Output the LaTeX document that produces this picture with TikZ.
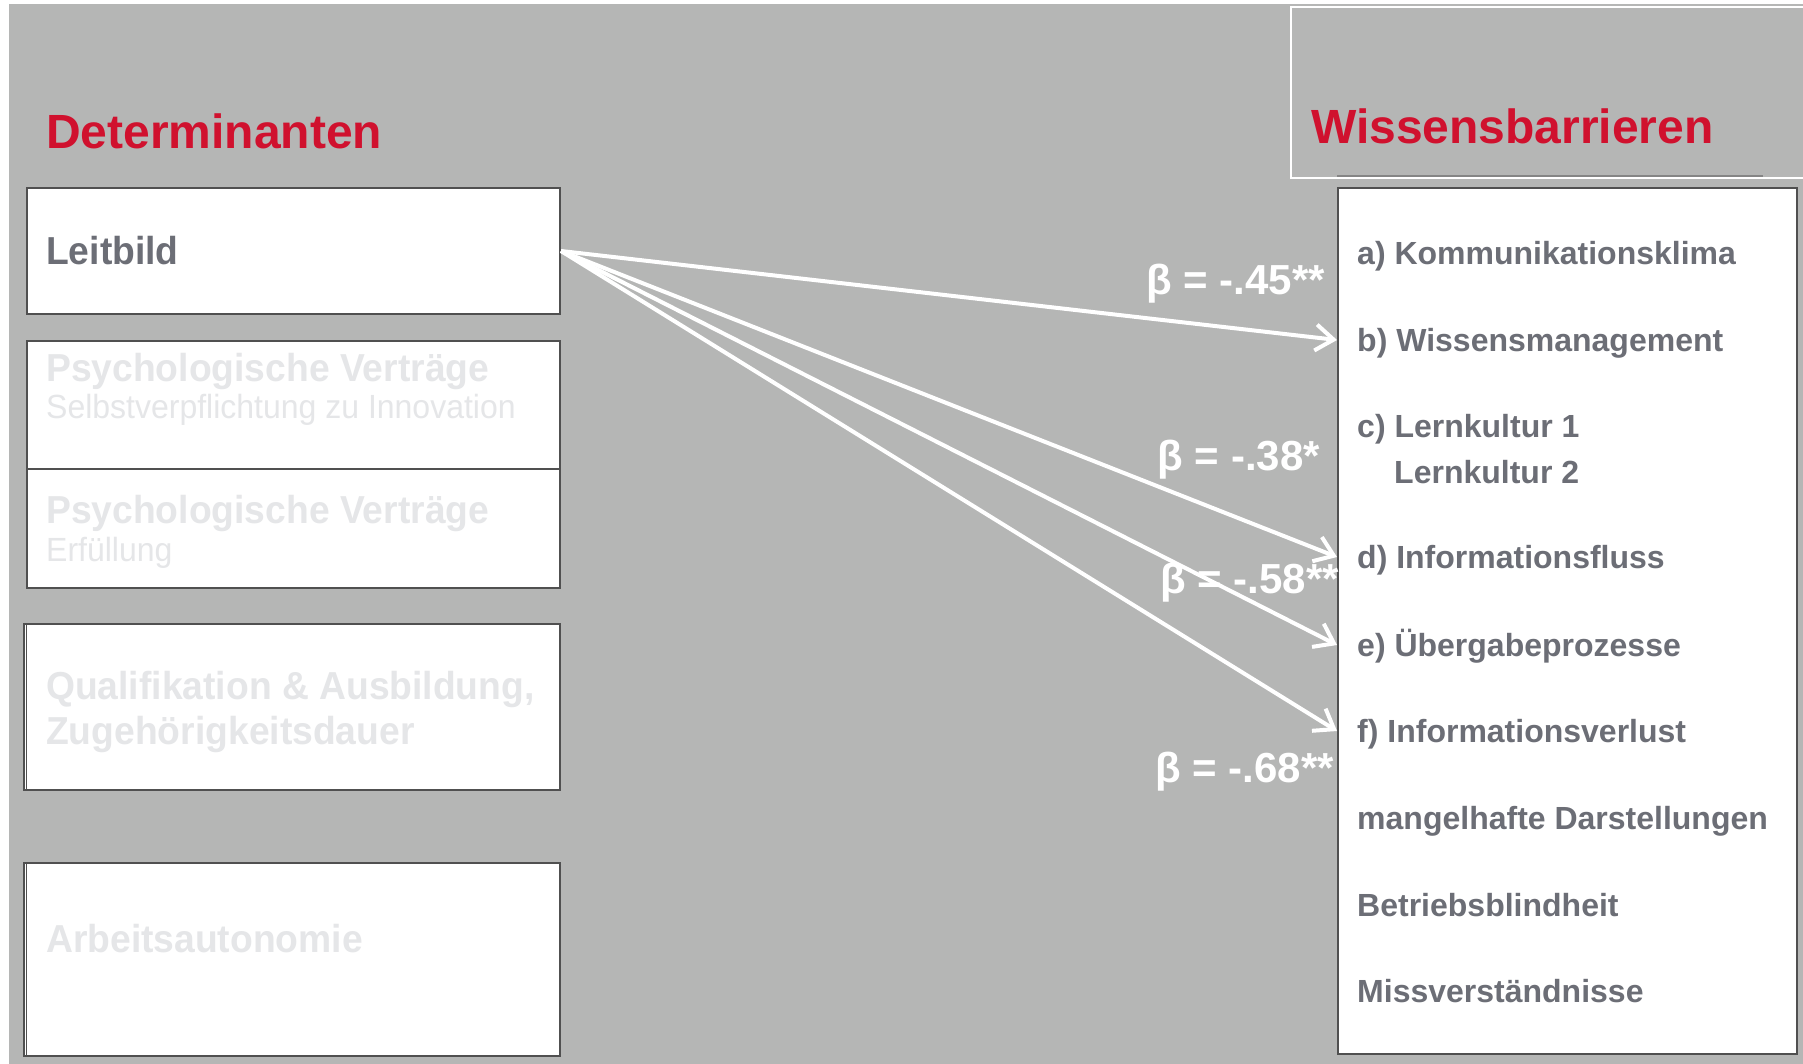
\documentclass[tikz,border=0pt]{standalone}
\usepackage{fontspec}
\setmainfont{Liberation Sans}
\newfontfamily\condfont{Liberation Sans}[FakeStretch=0.955]
\usetikzlibrary{arrows.meta}
\definecolor{bg}{RGB}{181,182,181}
\definecolor{hred}{RGB}{208,17,46}
\definecolor{txtgray}{RGB}{108,110,118}
\definecolor{faded}{RGB}{229,230,232}
\definecolor{boxline}{RGB}{80,80,80}
\begin{document}
\begin{tikzpicture}[x=1pt,y=-1pt,
  box/.style={draw=boxline, line width=2pt, fill=white, anchor=north west, inner sep=0pt},
  head/.style={text=hred, font=\bfseries\fontsize{48}{56}\selectfont, anchor=base west, inner sep=0pt},
  ltitle/.style={font=\condfont\bfseries\fontsize{39}{46}\selectfont, anchor=base west, inner sep=0pt},
  lsub/.style={font=\condfont\fontsize{33.5}{40}\selectfont, text=faded, anchor=base west, inner sep=0pt},
  rlabel/.style={font=\bfseries\fontsize{32}{38}\selectfont, text=txtgray, anchor=base west, inner xsep=20pt, inner ysep=0pt, text height=22pt, text depth=0pt},
  beta/.style={font=\bfseries\fontsize{42}{50}\selectfont, text=white, anchor=base east, inner sep=0pt},
  link/.style={draw=white, line width=4pt, -{Straight Barb[length=18pt,width=26pt]}}
]
\useasboundingbox (0,0) rectangle (1803,1064);
\fill[white] (0,0) rectangle (1803,1064);
\fill[bg] (9,4) rectangle (1803,1064);

% header frame on the right
\draw[white, line width=1.5pt] (1830,7) -- (1291,7) -- (1291,178) -- (1830,178);
\draw[boxline!70, line width=1.5pt] (1337,176) -- (1763,176);

\node[head] (det) at (46,149) {Determinanten};
\node[head] (wis) at (1311,144) {Wissensbarrieren};

% left boxes
\node[box, minimum width=533pt, minimum height=126pt] (lb) at (26,187) {};
\node[box, minimum width=533pt, minimum height=128pt] (pv1) at (26,340) {};
\node[box, minimum width=533pt, minimum height=119pt] (pv2) at (26,468) {};
\node[box, minimum width=536pt, minimum height=166pt] (qa) at (23,623) {};
\node[box, minimum width=536pt, minimum height=193pt] (aa) at (23,862) {};
\draw[boxline, line width=1.2pt] (26.5,623) -- (26.5,789);
\draw[boxline, line width=1.2pt] (26.5,862) -- (26.5,1055);

\node[ltitle, text=txtgray] (t1) at (46,265) {Leitbild};
\node[ltitle, text=faded] (t2) at (46,381) {Psychologische Verträge};
\node[lsub] (t2s) at (46,418) {Selbstverpflichtung zu Innovation};
\node[ltitle, text=faded] (t3) at (46,523) {Psychologische Verträge};
\node[lsub] (t3s) at (46,561) {Erfüllung};
\node[ltitle, text=faded] (t4) at (46,699) {Qualifikation \& Ausbildung,};
\node[ltitle, text=faded] (t4b) at (46,744) {Zugehörigkeitsdauer};
\node[ltitle, text=faded] (t5) at (46,952) {Arbeitsautonomie};

% right box
\node[box, minimum width=459pt, minimum height=866pt] (rb) at (1337,187) {};
\node[rlabel] (ra) at (1337,265) {a) Kommunikationsklima};
\node[rlabel] (rbb) at (1337,351) {b) Wissensmanagement};
\node[rlabel] (rc) at (1337,437) {c) Lernkultur 1};
\node[rlabel] (rc2) at (1374,483) {Lernkultur 2};
\node[rlabel] (rd) at (1337,568) {d) Informationsfluss};
\node[rlabel] (re) at (1337,656) {e) Übergabeprozesse};
\node[rlabel] (rf) at (1337,742) {f) Informationsverlust};
\node[rlabel] (rg) at (1337,829) {mangelhafte Darstellungen};
\node[rlabel] (rh) at (1337,916) {Betriebsblindheit};
\node[rlabel] (ri) at (1337,1002) {Missverständnisse};

% connectors
\draw[link] (lb.east) -- (rbb.west);
\draw[link] (lb.east) -- (rd.west);
\draw[link] (lb.east) -- (re.west);
\draw[link] (lb.east) -- (rf.west);

\node[beta] (b1) at (1325,295) {β = -.45**};
\node[beta] (b2) at (1320,470) {β = -.38*};
\node[beta] (b3) at (1339,593) {β = -.58**};
\node[beta] (b4) at (1334,782) {β = -.68**};
\end{tikzpicture}
\end{document}
